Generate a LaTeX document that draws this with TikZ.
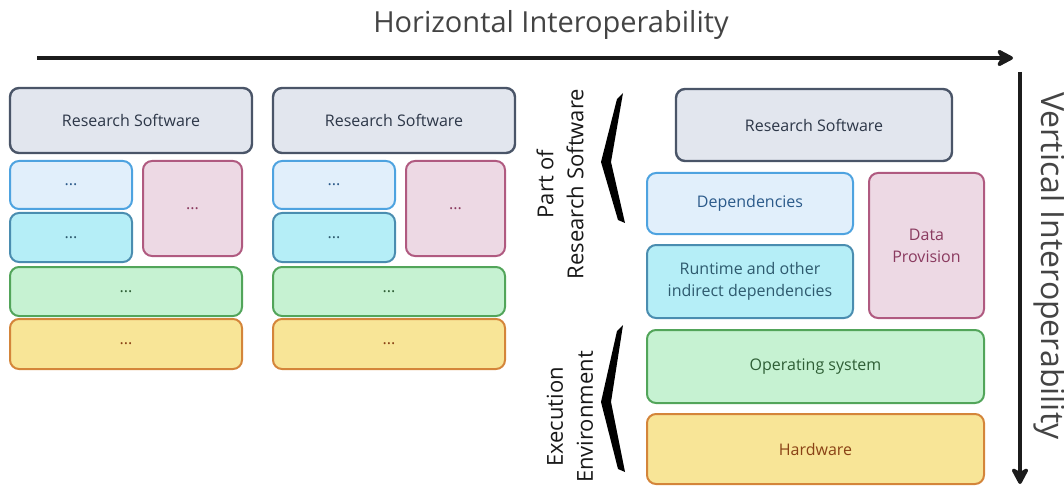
\documentclass[tikz,border=0pt]{standalone}
\usepackage{fontspec}
\setmainfont{Open Sans}
\usetikzlibrary{arrows.meta}
\definecolor{rsfill}{HTML}{E2E6EE}
\definecolor{rsline}{HTML}{4A5568}
\definecolor{rstext}{HTML}{2D3748}
\definecolor{depfill}{HTML}{E1EFFB}
\definecolor{depline}{HTML}{4EA3E0}
\definecolor{deptext}{HTML}{2B5A8A}
\definecolor{rtfill}{HTML}{B5EEF7}
\definecolor{rtline}{HTML}{4A8DB0}
\definecolor{rttext}{HTML}{2E5A6E}
\definecolor{datfill}{HTML}{EDD9E4}
\definecolor{datline}{HTML}{B05A80}
\definecolor{dattext}{HTML}{8A3A5F}
\definecolor{osfill}{HTML}{C6F2D2}
\definecolor{osline}{HTML}{52A55A}
\definecolor{ostext}{HTML}{2E5E35}
\definecolor{hwfill}{HTML}{F8E597}
\definecolor{hwline}{HTML}{D4853A}
\definecolor{hwtext}{HTML}{8A4215}
\definecolor{axisgray}{HTML}{1C1C1C}
\definecolor{titlegray}{HTML}{444444}

\begin{document}
\begin{tikzpicture}[x=1pt,y=-1pt,
  layer/.style={rounded corners=9pt,line width=2pt,inner sep=0pt,align=center,
    font=\fontsize{16}{22}\selectfont},
  rsbox/.style={layer,fill=rsfill,draw=rsline,text=rstext,line width=2.4pt},
  depbox/.style={layer,fill=depfill,draw=depline,text=deptext},
  rtbox/.style={layer,fill=rtfill,draw=rtline,text=rttext},
  datbox/.style={layer,fill=datfill,draw=datline,text=dattext},
  osbox/.style={layer,fill=osfill,draw=osline,text=ostext},
  hwbox/.style={layer,fill=hwfill,draw=hwline,text=hwtext},
  axis/.style={line width=4pt,color=axisgray,-{Stealth[length=20pt,width=21pt,inset=6pt,round]}},
  brace/.style={fill=black},
  sidelabel/.style={rotate=90,align=center,font=\fontsize{22}{30}\selectfont,text=black!90}]
\useasboundingbox (0,0) rectangle (1064,486);

% axes
\node[text=titlegray,font=\fontsize{29}{34}\selectfont] (htitle) at (551,25) {Horizontal Interoperability};
\coordinate (hstart) at (37,58);
\coordinate (hend) at (1013,58);
\draw[axis] (hstart) -- (hend);
\coordinate (vstart) at (1020,72);
\coordinate (vend) at (1020,484);
\draw[axis] (vstart) -- (vend);
\node[text=titlegray,rotate=-90,font=\fontsize{32}{36}\selectfont] (vtitle) at (1050,266) {Vertical Interoperability};

% two generic stacks
\foreach \dx/\n in {0/a,263/b}{
  \node[rsbox,minimum width=242pt,minimum height=65pt] (rs\n) at (131+\dx,120.5) {Research Software};
  \node[depbox,minimum width=122pt,minimum height=48pt] (dep\n) at (71+\dx,185) {...};
  \node[rtbox,minimum width=122pt,minimum height=49pt] (rt\n) at (71+\dx,237.5) {...};
  \node[datbox,minimum width=99pt,minimum height=95pt] (dat\n) at (192.5+\dx,208.5) {...};
  \node[osbox,minimum width=232pt,minimum height=49pt] (os\n) at (126+\dx,291.5) {...};
  \node[hwbox,minimum width=232pt,minimum height=50pt] (hw\n) at (126+\dx,344) {...};
}

% detailed stack
\node[rsbox,minimum width=276pt,minimum height=72pt] (rs) at (814,125) {Research Software};
\node[depbox,minimum width=206pt,minimum height=61pt] (dep) at (750,203.5) {Dependencies};
\node[rtbox,minimum width=206pt,minimum height=73pt] (rt) at (750,281.5) {Runtime and other\\indirect dependencies};
\node[datbox,minimum width=115pt,minimum height=145pt] (dat) at (926.5,245.5) {Data\\Provision};
\node[osbox,minimum width=337pt,minimum height=73pt] (os) at (815.5,366.5) {Operating system};
\node[hwbox,minimum width=337pt,minimum height=70pt] (hw) at (815.5,449) {Hardware};

% braces
\fill[brace] (617,99) -- (623,93) -- (611,162) -- (625,223) -- (618,220) -- (601,162) -- cycle;
\fill[brace] (617,331) -- (623,325) -- (611,402) -- (625,472) -- (618,469) -- (601,402) -- cycle;
\node[sidelabel] (partrs) at (560,184) {Part of\\Research Software};
\node[sidelabel] (execenv) at (570,417) {Execution\\Environment};
\end{tikzpicture}
\end{document}
